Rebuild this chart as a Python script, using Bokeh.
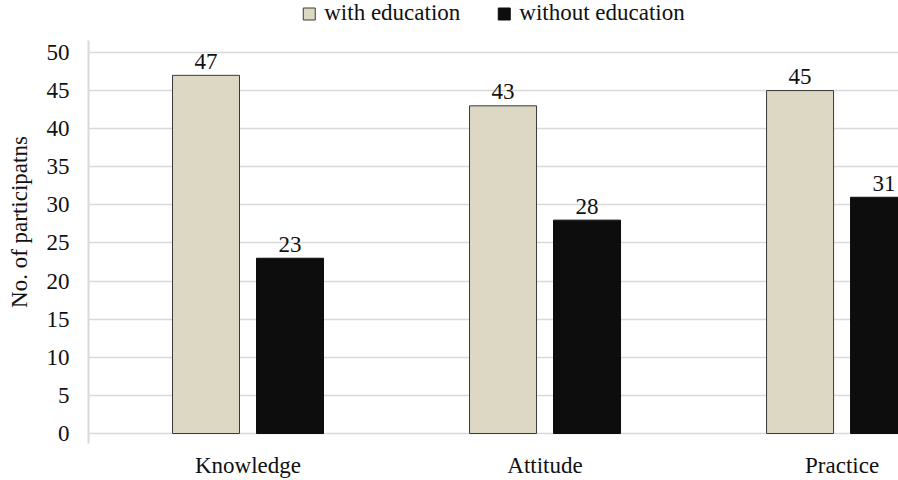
from bokeh.plotting import figure
from bokeh.models import ColumnDataSource, Range1d, FixedTicker, Legend, LegendItem
from bokeh.transform import dodge
from bokeh.core.properties import value
from bokeh.embed import file_html
from bokeh.resources import INLINE

categories = ["Knowledge", "Attitude", "Practice"]
with_education = [47, 43, 45]
without_education = [23, 28, 31]
series_names = ["with education", "without education"]
y_ticks = [0, 5, 10, 15, 20, 25, 30, 35, 40, 45, 50]
y_title = "No. of participatns"

FONT = "Liberation Serif"
FS = "23px"
TXT = "#111111"

src = ColumnDataSource(dict(
    x=[i + 0.5 for i in range(len(categories))],
    cat=categories,
    w=with_education,
    wo=without_education,
    wl=[str(v) for v in with_education],
    wol=[str(v) for v in without_education],
))

p = figure(width=898, height=480, output_backend="svg", toolbar_location=None,
           x_range=Range1d(-0.037, 2.690), y_range=Range1d(-1.31, 56.82),
           min_border_left=88, min_border_right=0, min_border_top=0, min_border_bottom=37)
p.outline_line_color = None
p.background_fill_color = "white"
p.border_fill_color = "white"

OFF = 0.1414
BW = 0.2256

r1 = p.vbar(x=dodge("x", -OFF), top="w", width=BW, bottom=0, source=src,
            fill_color="#ddd8c3", line_color="#3a3a3a", line_width=1)
r2 = p.vbar(x=dodge("x", OFF), top="wo", width=BW, bottom=0, source=src,
            fill_color="#0d0d0d", line_color="#0d0d0d", line_width=1)

p.text(x=dodge("x", -OFF), y="w", text="wl", source=src, text_align="center",
       text_baseline="alphabetic", y_offset=-14, text_font=value(FONT),
       text_font_size=FS, text_color=TXT)
p.text(x=dodge("x", OFF), y="wo", text="wol", source=src, text_align="center",
       text_baseline="alphabetic", y_offset=-14, text_font=value(FONT),
       text_font_size=FS, text_color=TXT)

# axes
p.xgrid.visible = False
p.ygrid.grid_line_color = "#d9d9d9"
p.ygrid.grid_line_width = 1.5
p.yaxis.ticker = FixedTicker(ticks=y_ticks)
p.yaxis.bounds = (-2, 51.57)
p.yaxis.axis_line_color = "#d9d9d9"
p.yaxis.axis_line_width = 2
p.yaxis.major_tick_line_color = None
p.yaxis.minor_tick_line_color = None
p.yaxis.major_label_standoff = 13
p.yaxis.major_label_text_font = FONT
p.yaxis.major_label_text_font_size = FS
p.yaxis.major_label_text_color = TXT
p.yaxis.axis_label = y_title
p.yaxis.axis_label_text_font = FONT
p.yaxis.axis_label_text_font_size = FS
p.yaxis.axis_label_text_font_style = "normal"
p.yaxis.axis_label_text_color = TXT
p.yaxis.axis_label_standoff = 12

p.xaxis.ticker = FixedTicker(ticks=[i + 0.5 for i in range(len(categories))])
p.xaxis.major_label_overrides = {i + 0.5: c for i, c in enumerate(categories)}
p.xaxis.axis_line_color = None
p.xaxis.major_tick_line_color = None
p.xaxis.minor_tick_line_color = None
p.xaxis.major_label_standoff = 3
p.xaxis.major_label_text_font = FONT
p.xaxis.major_label_text_font_size = FS
p.xaxis.major_label_text_color = TXT

legend = Legend(items=[LegendItem(label=series_names[0], renderers=[r1]),
                       LegendItem(label=series_names[1], renderers=[r2])],
                orientation="horizontal", location="top_center",
                glyph_width=15, glyph_height=15, label_standoff=8, spacing=36,
                padding=0, margin=0, label_text_font=FONT, label_text_font_size=FS,
                label_text_color=TXT, background_fill_alpha=0, border_line_alpha=0)
p.add_layout(legend, "center")

open("out.html", "w").write(file_html(p, INLINE))
